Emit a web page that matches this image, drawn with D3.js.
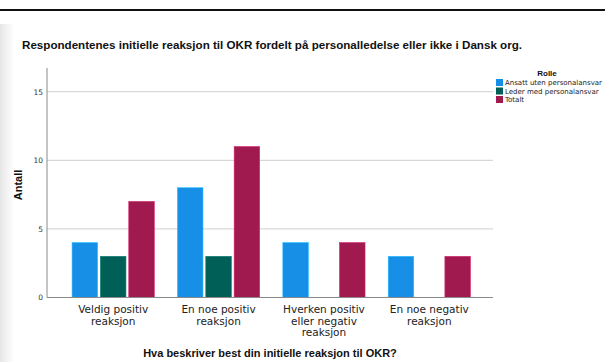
<!DOCTYPE html>
<html>
<head>
<meta charset="utf-8">
<script src="https://cdn.jsdelivr.net/npm/d3@7"></script>
<style>
  html, body { margin: 0; padding: 0; background: #fff; }
  svg { display: block; }
</style>
</head>
<body>
<svg id="chart" width="605" height="362"></svg>
<script>
// Response categories (x axis), each label split over lines
const categories = [
  ["Veldig positiv", "reaksjon"],
  ["En noe positiv", "reaksjon"],
  ["Hverken positiv", "eller negativ", "reaksjon"],
  ["En noe negativ", "reaksjon"]
];
const seriesNames = ["Ansatt uten personalansvar", "Leder med personalansvar", "Totalt"];
const seriesColors = ["#178fe6", "#005f57", "#a01a50"];
// Counts per series, one value per category (null = no bar)
const ansattUten = [4, 8, 4, 3];
const lederMed = [3, 3, null, null];
const totalt = [7, 11, 4, 3];
const yTicks = [0, 5, 10, 15];

const title = "Respondentenes initielle reaksjon til OKR fordelt på personalledelse eller ikke i Dansk org.";
const xTitle = "Hva beskriver best din initielle reaksjon til OKR?";
const yTitle = "Antall";
const legendTitle = "Rolle";

const series = [ansattUten, lederMed, totalt];
const svg = d3.select("#chart");

// Soft shadow at the left edge of the page area
const defs = svg.append("defs");
const grad = defs.append("linearGradient").attr("id", "edge").attr("x1", 0).attr("x2", 1);
grad.append("stop").attr("offset", 0).attr("stop-color", "#e6e6e6");
grad.append("stop").attr("offset", 1).attr("stop-color", "#ffffff");
svg.append("rect").attr("x", 0).attr("y", 24).attr("width", 14).attr("height", 338).attr("fill", "url(#edge)");

// Heavy rule at the top
svg.append("rect").attr("x", 0).attr("y", 9).attr("width", 605).attr("height", 2).attr("fill", "#111");

svg.append("text")
  .attr("x", 22).attr("y", 49)
  .attr("font-family", "Liberation Sans, Arial, sans-serif")
  .attr("font-size", 11).attr("font-weight", "bold").attr("fill", "#111")
  .attr("textLength", 500).attr("lengthAdjust", "spacingAndGlyphs")
  .text(title);

const plot = { left: 47, right: 493, top: 68, bottom: 297.5 };

const y = d3.scaleLinear().domain([0, 15]).range([plot.bottom, 91.7]);
const x = d3.scaleBand().domain(d3.range(categories.length)).range([60.5, 482]).paddingInner(0.22).paddingOuter(0.11);
const xs = d3.scaleBand().domain(d3.range(series.length)).range([0, x.bandwidth()]).paddingInner(0.1);

// Gridlines
svg.append("g").selectAll("line").data(yTicks.filter(d => d > 0)).join("line")
  .attr("x1", plot.left).attr("x2", plot.right)
  .attr("y1", d => y(d)).attr("y2", d => y(d))
  .attr("stroke", "#cfcfcf").attr("stroke-width", 1);

// Y axis
const yAxis = svg.append("g").attr("transform", `translate(${plot.left},0)`)
  .call(d3.axisLeft(y).tickValues(yTicks).tickSize(0).tickPadding(4));
yAxis.select(".domain").remove();
yAxis.selectAll("text").attr("font-family", "DejaVu Sans, sans-serif").attr("font-size", 7.5).attr("fill", "#333");
svg.append("line").attr("x1", plot.left).attr("x2", plot.left).attr("y1", plot.top).attr("y2", plot.bottom)
  .attr("stroke", "#8a8a8a").attr("stroke-width", 1);

// Bars
const bars = [];
series.forEach((vals, si) => vals.forEach((v, ci) => { if (v != null) bars.push({ si, ci, v }); }));
svg.append("g").selectAll("rect").data(bars).join("rect")
  .attr("x", d => x(d.ci) + xs(d.si))
  .attr("width", xs.bandwidth())
  .attr("y", d => y(d.v))
  .attr("height", d => y(0) - y(d.v))
  .attr("fill", d => seriesColors[d.si])
  .attr("stroke", d => d3.color(seriesColors[d.si]).brighter(0.8))
  .attr("stroke-width", 0.6);

// X axis baseline
svg.append("line").attr("x1", plot.left).attr("x2", plot.right).attr("y1", plot.bottom).attr("y2", plot.bottom)
  .attr("stroke", "#8a8a8a").attr("stroke-width", 1.2);

// Category labels
const catG = svg.append("g");
categories.forEach((lines, ci) => {
  const cx = x(ci) + x.bandwidth() / 2;
  const t = catG.append("text")
    .attr("x", cx).attr("y", 313)
    .attr("text-anchor", "middle")
    .attr("font-family", "DejaVu Sans, sans-serif").attr("font-size", 10.5).attr("fill", "#222");
  lines.forEach((l, i) => t.append("tspan").attr("x", cx).attr("dy", i ? 11.5 : 0).text(l));
});

// Axis titles
svg.append("text").attr("x", 270).attr("y", 357).attr("text-anchor", "middle")
  .attr("font-family", "Liberation Sans, Arial, sans-serif").attr("font-size", 11).attr("font-weight", "bold").attr("fill", "#111")
  .text(xTitle);
svg.append("text").attr("transform", "translate(22,185) rotate(-90)").attr("text-anchor", "middle")
  .attr("font-family", "Liberation Sans, Arial, sans-serif").attr("font-size", 11).attr("font-weight", "bold").attr("fill", "#111")
  .text(yTitle);

// Legend
const lg = svg.append("g");
lg.append("text").attr("x", 547).attr("y", 76).attr("text-anchor", "middle")
  .attr("font-family", "Liberation Sans, Arial, sans-serif").attr("font-size", 8).attr("font-weight", "bold").attr("fill", "#111")
  .text(legendTitle);
seriesNames.forEach((n, i) => {
  const yy = 79 + i * 8.5;
  lg.append("rect").attr("x", 496).attr("y", yy).attr("width", 7).attr("height", 7).attr("fill", seriesColors[i]);
  lg.append("text").attr("x", 505).attr("y", yy + 6.3)
    .attr("font-family", "DejaVu Sans, sans-serif").attr("font-size", 7).attr("fill", "#222")
    .text(n);
});
</script>
</body>
</html>
